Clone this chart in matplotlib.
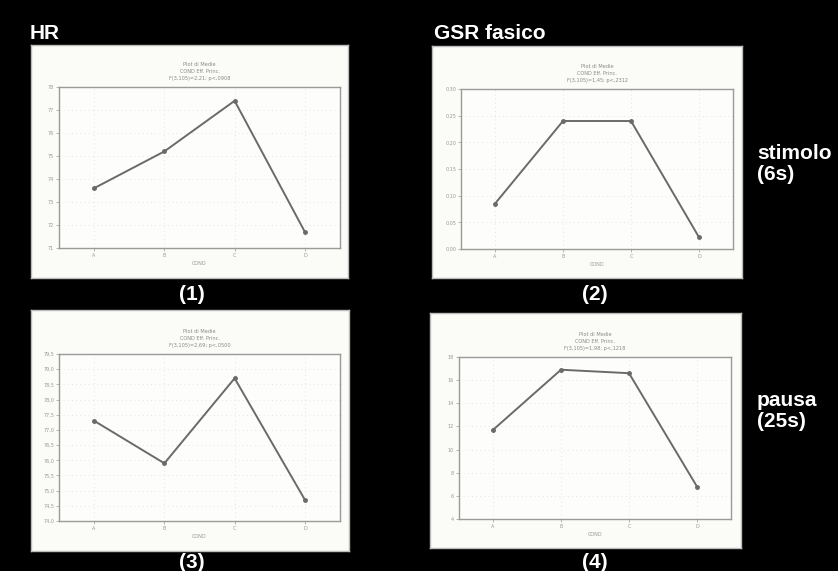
import numpy as np
import matplotlib
matplotlib.use("Agg")
import matplotlib.pyplot as plt

#------------------------------ DATA ------------------------------
conds = ["A", "B", "C", "D"]

hr_stim = [73.6, 75.2, 77.4, 71.7]
hr_stim_ticks = [71, 72, 73, 74, 75, 76, 77, 78]
hr_stim_labels = ["71", "72", "73", "74", "75", "76", "77", "78"]

gsr_stim = [0.085, 0.240, 0.240, 0.022]
gsr_stim_ticks = [0.00, 0.05, 0.10, 0.15, 0.20, 0.25, 0.30]
gsr_stim_labels = ["0,00", "0,05", "0,10", "0,15", "0,20", "0,25", "0,30"]

hr_pausa = [77.3, 75.9, 78.7, 74.7]
hr_pausa_ticks = [74.0, 74.5, 75.0, 75.5, 76.0, 76.5, 77.0, 77.5, 78.0, 78.5, 79.0, 79.5]
hr_pausa_labels = ["74,0", "74,5", "75,0", "75,5", "76,0", "76,5",
                   "77,0", "77,5", "78,0", "78,5", "79,0", "79,5"]

gsr_pausa = [11.7, 16.9, 16.6, 6.8]
gsr_pausa_ticks = [4, 6, 8, 10, 12, 14, 16, 18]
gsr_pausa_labels = ["4", "6", "8", "10", "12", "14", "16", "18"]

titles = ["Plot di Medie\nCOND Eff. Princ.\nF(3,105)=2,21; p<,0908",
          "Plot di Medie\nCOND Eff. Princ.\nF(3,105)=1,45; p<,2312",
          "Plot di Medie\nCOND Eff. Princ.\nF(3,105)=2,69; p<,0500",
          "Plot di Medie\nCOND Eff. Princ.\nF(3,105)=1,98; p<,1218"]
#------------------------------------------------------------------

W, H = 838, 571
fig = plt.figure(figsize=(W / 100, H / 100), dpi=100, facecolor="black")

def frac(x0, y0, x1, y1):
    # pixel box -> figure fraction [left, bottom, width, height]
    return [x0 / W, 1 - y1 / H, (x1 - x0) / W, (y1 - y0) / H]

def panel(boxpx, axpx, values, ticks, labels, title):
    # white card behind the plot
    bg = fig.add_axes(frac(*boxpx), zorder=0)
    bg.set_facecolor("#fbfbf7")
    bg.set_xticks([])
    bg.set_yticks([])
    for s in bg.spines.values():
        s.set_color("#bbbbbb")
        s.set_linewidth(1.0)

    ax = fig.add_axes(frac(*axpx), zorder=1)
    ax.set_facecolor("#fdfdfb")
    x = np.arange(len(conds))
    ax.plot(x, values, color="#6a6a6a", lw=1.4, marker="o", ms=2.5, zorder=3)
    ax.set_xlim(-0.5, len(conds) - 0.5)
    ax.set_ylim(ticks[0], ticks[-1])
    ax.set_yticks(ticks)
    ax.set_yticklabels(labels)
    ax.set_xticks(x)
    ax.set_xticklabels(conds)
    ax.tick_params(labelsize=3.5, colors="#999999", length=2, width=0.5, pad=1.5)
    for s in ax.spines.values():
        s.set_color("#9a9a9a")
        s.set_linewidth(1.0)
    ax.grid(True, linestyle=(0, (1, 4)), color="#dcdcdc", lw=0.6)
    ax.set_xlabel("COND", fontsize=3.5, color="#999999", labelpad=2)
    ax.set_title(title, fontsize=3.6, color="#888888", pad=5, linespacing=1.5)
    return ax

panel((31, 45, 348, 278), (59, 87, 340, 248), hr_stim, hr_stim_ticks, hr_stim_labels, titles[0])
panel((432, 46, 742, 278), (461, 89, 733, 249), gsr_stim, gsr_stim_ticks, gsr_stim_labels, titles[1])
panel((31, 310, 349, 551), (59, 354, 340, 521), hr_pausa, hr_pausa_ticks, hr_pausa_labels, titles[2])
panel((430, 313, 741, 548), (459, 357, 731, 519), gsr_pausa, gsr_pausa_ticks, gsr_pausa_labels, titles[3])

# labels on black background
big = dict(color="white", fontsize=15, fontweight="bold", family="Liberation Sans")
fig.text(30 / W, 1 - 39 / H, "HR", ha="left", va="baseline", **big)
fig.text(434 / W, 1 - 39 / H, "GSR fasico", ha="left", va="baseline", **big)
fig.text(757 / W, 1 - 164 / H, "stimolo\n(6s)", ha="left", va="center",
         linespacing=1.15, **big)
fig.text(757 / W, 1 - 411 / H, "pausa\n(25s)", ha="left", va="center",
         linespacing=1.15, **big)
for lab, cx, cy in [("(1)", 192, 294), ("(2)", 595, 294), ("(3)", 192, 562), ("(4)", 595, 562)]:
    fig.text(cx / W, 1 - cy / H, lab, ha="center", va="center", **big)

fig.savefig("out.png", dpi=100, facecolor="black")
